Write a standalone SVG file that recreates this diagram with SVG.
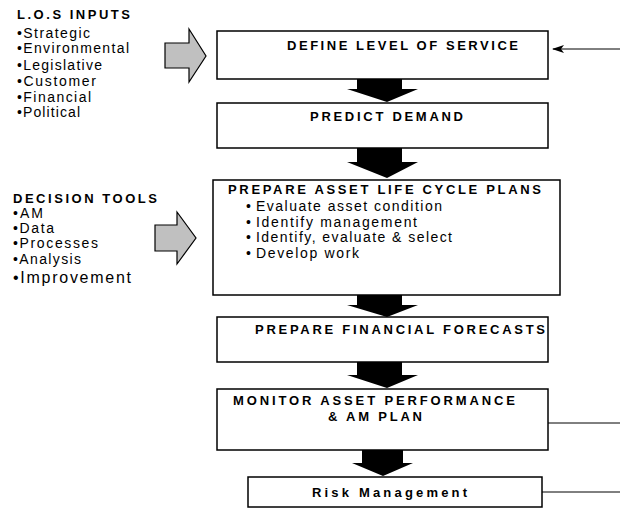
<svg xmlns="http://www.w3.org/2000/svg" width="620" height="508" viewBox="0 0 620 508">
<style>
.box{fill:#fff;stroke:#000;stroke-width:1.5}
.t{font-family:"Liberation Sans",Arial,sans-serif;font-weight:bold;font-size:13px;fill:#000}
.r{font-family:"Liberation Sans",Arial,sans-serif;font-size:14px;fill:#000}
.b{font-family:"Liberation Sans",Arial,sans-serif;font-size:14px;fill:#000}
.blk{fill:#000}
.gray{fill:#c0c0c0;stroke:#000;stroke-width:1.2}
.ln{stroke:#000;stroke-width:1;fill:none}
</style>
<defs>
<marker id="ah" markerWidth="12" markerHeight="8" refX="11" refY="4" orient="auto" markerUnits="userSpaceOnUse">
<path d="M0,0 L12,4 L0,8 L3,4 Z" fill="#000"/>
</marker>
</defs>
<rect width="620" height="508" fill="#fff"/>

<g id="los-inputs">
<text class="t" x="17" y="19" textLength="113" lengthAdjust="spacing">L.O.S INPUTS</text>
<text class="r" x="17" y="38" textLength="73" lengthAdjust="spacing">•Strategic</text>
<text class="r" x="17" y="53" textLength="112" lengthAdjust="spacing">•Environmental</text>
<text class="r" x="17" y="70" textLength="85" lengthAdjust="spacing">•Legislative</text>
<text class="r" x="17" y="86" textLength="79" lengthAdjust="spacing">•Customer</text>
<text class="r" x="17" y="102" textLength="74" lengthAdjust="spacing">•Financial</text>
<text class="r" x="17" y="117" textLength="63" lengthAdjust="spacing">•Political</text>
</g>

<g id="decision-tools">
<text class="t" x="13" y="203" textLength="144" lengthAdjust="spacing">DECISION TOOLS</text>
<text class="r" x="13" y="218" textLength="30" lengthAdjust="spacing">•AM</text>
<text class="r" x="13" y="233" textLength="41" lengthAdjust="spacing">•Data</text>
<text class="r" x="13" y="248" textLength="85" lengthAdjust="spacing">•Processes</text>
<text class="r" x="13" y="264" textLength="68" lengthAdjust="spacing">•Analysis</text>
<text class="r" x="13" y="283" style="font-size:16px" textLength="118" lengthAdjust="spacing">•Improvement</text>
</g>

<g id="define-los">
<rect class="box" x="217" y="31" width="331" height="48"/>
<text class="t" x="287" y="50" textLength="231" lengthAdjust="spacing">DEFINE LEVEL OF SERVICE</text>
</g>

<g id="predict-demand">
<rect class="box" x="217" y="103" width="331" height="45"/>
<text class="t" x="310" y="121" textLength="153" lengthAdjust="spacing">PREDICT DEMAND</text>
</g>

<g id="asset-life-cycle">
<rect class="box" x="213" y="180" width="347" height="115"/>
<text class="t" x="228" y="194" textLength="313" lengthAdjust="spacing">PREPARE ASSET LIFE CYCLE PLANS</text>
<text class="b" x="246" y="211">•</text>
<text class="b" x="256" y="211" textLength="186" lengthAdjust="spacing">Evaluate asset condition</text>
<text class="b" x="246" y="226.5">•</text>
<text class="b" x="256" y="226.5" textLength="161" lengthAdjust="spacing">Identify management</text>
<text class="b" x="246" y="242">•</text>
<text class="b" x="256" y="242" textLength="196" lengthAdjust="spacing">Identify, evaluate &amp; select</text>
<text class="b" x="246" y="257.5">•</text>
<text class="b" x="256" y="257.5" textLength="103" lengthAdjust="spacing">Develop work</text>
</g>

<g id="financial-forecasts">
<rect class="box" x="217" y="317" width="331" height="45"/>
<text class="t" x="255" y="334" textLength="290" lengthAdjust="spacing">PREPARE FINANCIAL FORECASTS</text>
</g>

<g id="monitor-performance">
<rect class="box" x="217" y="389" width="331" height="61"/>
<text class="t" x="233" y="405" textLength="282" lengthAdjust="spacing">MONITOR ASSET PERFORMANCE</text>
<text class="t" x="328" y="421" textLength="94" lengthAdjust="spacing">&amp; AM PLAN</text>
</g>

<g id="risk-management">
<rect class="box" x="248" y="477" width="294" height="30"/>
<text class="t" x="312" y="497" textLength="155" lengthAdjust="spacing">Risk Management</text>
</g>

<g id="connectors">
<polygon class="gray" points="165,43 189,43 189,29 206,56 189,82 189,68 165,68"/>
<polygon class="gray" points="155,225 177,225 177,212 196,238 177,264 177,251 155,251"/>
<polygon class="blk" points="357,79 402,79 402,89 418,89 387,102 347,89 357,89"/>
<polygon class="blk" points="357,148 402,148 402,162 418,162 387,178 347,162 357,162"/>
<polygon class="blk" points="357,295 402,295 402,305 418,305 387,317 347,305 357,305"/>
<polygon class="blk" points="357,362 402,362 402,375 418,375 387,388 347,375 357,375"/>
<polygon class="blk" points="362,450 403,450 403,463 413,463 383,476 352,463 362,463"/>
<line class="ln" x1="620" y1="49" x2="553" y2="49" marker-end="url(#ah)"/>
<line class="ln" x1="548" y1="423" x2="620" y2="423"/>
<line class="ln" x1="542" y1="492" x2="620" y2="492"/>
</g>
</svg>
